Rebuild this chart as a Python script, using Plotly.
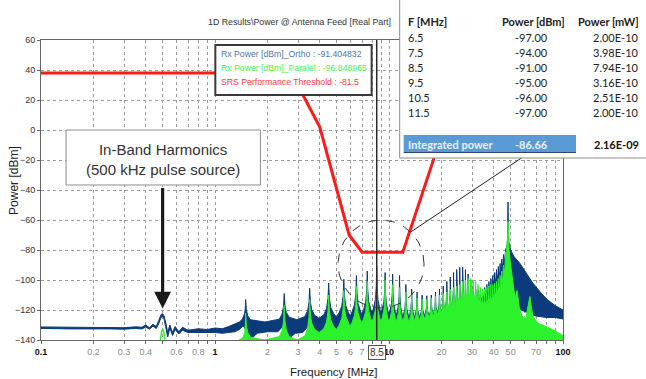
import numpy as np
import plotly.graph_objects as go

# ---------------- data ----------------
# odd harmonics of the 500 kHz pulse source [MHz]
harm_f = [1.5, 2.5, 3.5, 4.5, 5.5, 6.5, 7.5, 8.5, 9.5, 10.5,
          11.5, 12.5, 13.5, 14.5, 15.5, 16.5, 17.5, 18.5, 19.5, 20.5,
          21.5, 22.5, 23.5, 24.5, 25.5, 26.5, 27.5, 28.5, 29.5, 30.5,
          31.5, 32.5, 33.5, 34.5, 35.5, 36.5, 37.5, 38.5, 39.5, 40.5,
          41.5, 42.5, 43.5, 44.5, 45.5, 46.5]

# Rx Power [dBm]_Ortho : harmonic peaks and the level between harmonics
ortho_peak = [-113, -109, -105.5, -102, -99.5, -97, -94, -91, -95, -96,
              -97, -103, -106, -108, -110, -110.5, -110, -108, -106, -104,
              -101, -98, -95, -93, -91.5, -91.5, -93, -96, -100, -104,
              -106, -107, -107, -106, -105, -103, -101, -99, -97, -95,
              -93, -91, -89, -86, -83, -80]
ortho_valley = [-128, -126.5, -125.5, -124.5, -124, -123, -122, -122, -123, -124,
                -125, -125, -125, -125, -124, -124, -123, -122, -122, -121,
                -121, -120, -120, -119, -119, -119, -120, -120, -119, -117,
                -115, -114, -113, -112, -110, -108, -106, -104, -102, -100,
                -98, -96, -93, -90, -87]
# low band (below the first harmonic): upper / lower edge of the trace
ortho_low_f = [0.1, 0.15, 0.2, 0.25, 0.3, 0.35, 0.38, 0.40, 0.42, 0.44, 0.46, 0.475,
               0.49, 0.50, 0.51, 0.52, 0.535, 0.55, 0.57, 0.59, 0.62, 0.65, 0.7,
               0.8, 0.9, 1.0, 1.1, 1.2, 1.3, 1.38, 1.44]
ortho_low_top = [-131.3, -131.6, -131.8, -131.6, -131.8, -131.2, -131.5, -130, -131.8,
                 -129.5, -131, -127, -123, -122.5, -124, -128, -135, -130, -135, -131,
                 -134.5, -131.5, -133.5, -132.5, -133, -132, -132.5, -131, -129.5,
                 -128, -126]
ortho_low_bot = [-132.3, -132.6, -132.8, -132.6, -132.8, -132.3, -132.6, -131.3, -132.8,
                 -130.8, -132.3, -129, -125, -124, -126, -131, -138, -132, -137, -133,
                 -136, -133.5, -135, -134.5, -135, -135, -135.5, -135, -134.5, -133,
                 -131]
# floor of the Ortho trace across the harmonic band
ortho_floor_f = [1.47, 1.53, 1.6, 1.75, 2.0, 2.3, 2.45, 2.56, 2.68, 2.9, 3.2, 3.42,
                 3.58, 3.75, 4.2, 5.0, 6.0, 7.0, 8.0, 10.0, 12.0, 15.0, 20.0, 25.0,
                 30.0, 35.0, 40.0, 46.8]
ortho_floor = [-131, -136, -139.5, -135.5, -134.5, -134.5, -131, -136, -138.5, -135.5,
               -135, -131, -135, -136.5, -134, -133, -132, -131, -130, -130, -130,
               -129, -128, -127, -125, -122, -119, -114]
# high band around the 48 MHz emission
ortho_high_f = [47.2, 47.8, 48.1, 48.3, 48.5, 48.9, 50, 52, 56.6, 62, 67, 74, 81, 90, 100]
ortho_high_top = [-79, -76, -70, -48, -70, -75, -80, -84, -89, -96, -102, -108, -113,
                  -117, -120]
ortho_high_bot_f = [47.2, 48.3, 52, 60, 70, 80, 90, 100]
ortho_high_bot = [-114, -110, -117, -121, -124, -125, -125, -126]

# Rx Power [dBm]_Paralel
para_peak = [-122, -117, -113, -110, -107, -104, -101, -99, -100, -103,
             -105, -108, -110, -112, -113, -113, -112, -111, -110, -109,
             -108, -106, -105, -104, -103, -101, -100, -99, -99, -100,
             -101, -103, -105, -106, -106, -105, -104, -103, -103, -102,
             -101, -99, -97, -94, -90, -84]
para_valley = [-140, -140, -135, -133, -131, -129, -128, -128, -128, -128,
               -128, -128, -127, -127, -126, -125, -124, -123, -122, -120,
               -118, -117, -116, -115, -114, -113, -112, -111, -111, -112,
               -113, -115, -116, -117, -117, -116, -115, -114, -112, -110,
               -108, -106, -103, -100, -95]
para_hump_f = [0.485, 0.49, 0.495, 0.50, 0.505, 0.51, 0.515]
para_hump = [-140, -136, -133.5, -133, -133.5, -136, -140]
para_high_f = [47.2, 47.8, 48.1, 48.3, 48.5, 49.0, 50.0, 51.5, 53.0, 54.5, 56, 58, 61,
               64.5, 67, 72, 80, 90, 100]
para_high = [-81, -75, -72, -61, -72, -80, -90, -102, -112, -107, -118, -124, -126,
             -111, -124, -129, -131, -134, -137]

# SRS Performance Threshold
thr_f = [0.1, 2.75, 4.0, 5.9, 7.0, 12.0, 18.0, 22.0, 100]
thr_db = [38, 38, 2, -70, -81.5, -81.5, -20, 38, 38]

cursor_f = 8.5
x_grid = [0.1, 0.2, 0.3, 0.4, 0.5, 0.6, 0.7, 0.8, 0.9,
          1, 2, 3, 4, 5, 6, 7, 8, 9, 10, 20, 30, 40, 50, 60, 70, 80, 90, 100]
x_labels = {0.1: "0.1", 0.2: "0.2", 0.3: "0.3", 0.4: "0.4", 0.6: "0.6", 0.8: "0.8",
            1: "1", 2: "2", 3: "3", 4: "4", 5: "5", 6: "6", 7: "7", 10: "10",
            20: "20", 30: "30", 40: "40", 50: "50", 70: "70", 100: "100"}
decades = {0.1, 1, 10, 100}

# cursor read-out lines
readout = [("Rx Power [dBm]_Ortho : -91.404832", "#4d76ad"),
           ("Rx Power [dBm]_Paralel : -96.848965", "#4cf24c"),
           ("SRS Performance Threshold : -81.5", "#ff3a3a")]

BLUE = "#0b3b7a"
GREEN = "#2cf22c"
RED = "#ff1a1a"

# ---------------- helpers ----------------
SKIRT = [(0.35, 0.1), (0.15, 0.28), (0.05, 0.55)]


def comb_edge(freqs, peaks, valleys, left_level, right_level, cap=0.08):
    """Upper edge of a harmonic comb: resonance spikes joined at the valleys."""
    lf = np.log10(freqs)
    n = len(freqs)
    pts = []
    for k in range(n):
        vl = left_level if k == 0 else valleys[k - 1]
        vr = right_level if k == n - 1 else valleys[k]
        gl = 0.04 if k == 0 else min(cap, lf[k] - lf[k - 1])
        gr = min(cap, (lf[k + 1] if k < n - 1 else 2 * lf[k] - lf[k - 1]) - lf[k])
        if k > 0:
            pts.append((10 ** ((lf[k - 1] + lf[k]) / 2), vl))
        for frac, share in SKIRT:
            pts.append((10 ** (lf[k] - frac * gl), vl + share * (peaks[k] - vl)))
        pts.append((freqs[k], peaks[k]))
        for frac, share in reversed(SKIRT):
            pts.append((10 ** (lf[k] + frac * gr), vr + share * (peaks[k] - vr)))
    return pts


def px_x(x):
    return (x - 41) / 521


def px_y(y):
    return (340 - y) / 300


# Ortho: filled band between upper and lower edges
ortho_upper = (list(zip(ortho_low_f, ortho_low_top))
               + comb_edge(harm_f, ortho_peak, ortho_valley, ortho_low_top[-1], ortho_high_top[0])
               + list(zip(ortho_high_f, ortho_high_top)))
ortho_lower = (list(zip(ortho_low_f, ortho_low_bot))
               + list(zip(ortho_floor_f, ortho_floor))
               + list(zip(ortho_high_bot_f, ortho_high_bot)))
ortho_poly = ortho_upper + ortho_lower[::-1] + [ortho_upper[0]]

# Paralel: filled down to the axis floor
para_upper = ([(1.38, -140)]
              + comb_edge(harm_f, para_peak, para_valley, -140, para_high[0])
              + list(zip(para_high_f, para_high)))
para_poly = para_upper + [(100, -140), (1.38, -140)]

fig = go.Figure()
fig.add_trace(go.Scatter(
    x=[p[0] for p in ortho_poly], y=[p[1] for p in ortho_poly],
    mode="lines", fill="toself", fillcolor=BLUE, line=dict(color=BLUE, width=1),
    name="Rx Power [dBm]_Ortho", hoverinfo="skip"))
fig.add_trace(go.Scatter(
    x=[p[0] for p in para_poly], y=[p[1] for p in para_poly],
    mode="lines", fill="toself", fillcolor=GREEN, line=dict(color=GREEN, width=1),
    name="Rx Power [dBm]_Paralel", hoverinfo="skip"))
fig.add_trace(go.Scatter(
    x=para_hump_f, y=para_hump, mode="lines", line=dict(color=GREEN, width=1.5),
    showlegend=False, hoverinfo="skip"))
fig.add_trace(go.Scatter(
    x=thr_f, y=thr_db, mode="lines", line=dict(color=RED, width=3),
    name="SRS Performance Threshold", hoverinfo="skip"))
fig.add_trace(go.Scatter(
    x=[cursor_f, cursor_f], y=[-140, 60], mode="lines",
    line=dict(color="#2a2a2a", width=1.5), showlegend=False, hoverinfo="skip"))

# dashed zoom circle around the integrated band
t = np.linspace(0, 2 * np.pi, 121)
circ_c, circ_db, circ_rx, circ_ry = np.log10(9.0), -89.3, 0.247, 29.3
fig.add_trace(go.Scatter(
    x=10 ** (circ_c + circ_rx * np.cos(t)), y=circ_db + circ_ry * np.sin(t),
    mode="lines", line=dict(color="#333333", width=1, dash="dash"),
    showlegend=False, hoverinfo="skip"))

# ---------------- axes ----------------
def tick_text(v):
    if v not in x_labels:
        return ""
    if v in decades:
        return f'<span style="color:#111"><b>{x_labels[v]}</b></span>'
    return x_labels[v]


fig.update_xaxes(
    type="log", range=[-1, 2], tickvals=x_grid, ticktext=[tick_text(v) for v in x_grid],
    showgrid=True, gridcolor="#9a9a9a", griddash="dot", gridwidth=1,
    ticks="outside", ticklen=3, tickcolor="#666",
    showline=True, linecolor="#666", linewidth=1, mirror=True, zeroline=False,
    tickfont=dict(family="Liberation Sans", size=9, color="#8a8a8a"))
fig.update_yaxes(
    range=[-140, 60], tick0=-140, dtick=20,
    showgrid=True, gridcolor="#9a9a9a", griddash="dot", gridwidth=1,
    ticks="outside", ticklen=3, tickcolor="#666",
    showline=True, linecolor="#666", linewidth=1, mirror=True, zeroline=False,
    tickfont=dict(family="Liberation Sans", size=9, color="#333"))

# ---------------- shapes ----------------
shapes = [
    # cursor read-out box
    dict(type="rect", xref="paper", yref="paper", x0=px_x(215), x1=px_x(371),
         y0=px_y(95), y1=px_y(45), fillcolor="white", line=dict(color="#3a3a3a", width=2),
         layer="above"),
    # harmonic callout box
    dict(type="rect", xref="paper", yref="paper", x0=px_x(66), x1=px_x(260),
         y0=px_y(185), y1=px_y(130), fillcolor="white", line=dict(color="#8c8c8c", width=1),
         layer="above"),
    # leader from the circle to the table
    dict(type="line", xref="paper", yref="paper", x0=px_x(410), y0=px_y(232),
         x1=px_x(522), y1=px_y(157), line=dict(color="#222", width=1), layer="above"),
    # table panel
    dict(type="rect", xref="paper", yref="paper", x0=px_x(399), x1=px_x(648),
         y0=px_y(158), y1=px_y(-2), fillcolor="white", line=dict(color="#8c8c8c", width=1),
         layer="above"),
    dict(type="rect", xref="paper", yref="paper", x0=px_x(403), x1=px_x(575),
         y0=px_y(152), y1=px_y(135), fillcolor="#5b9bd5", line=dict(width=0), layer="above"),
    dict(type="line", xref="paper", yref="paper", x0=px_x(403), x1=px_x(575),
         y0=px_y(152.5), y1=px_y(152.5), line=dict(color="#2d4a6a", width=1), layer="above"),
]

# ---------------- annotations ----------------
ann = []
ann.append(dict(text="1D Results\\Power @ Antenna Feed [Real Part]", x=px_x(392), y=px_y(22),
                xref="paper", yref="paper", xanchor="right", yanchor="middle", showarrow=False,
                font=dict(family="Liberation Sans", size=8.8, color="#333")))
for i, (txt, col) in enumerate(readout):
    ann.append(dict(text=txt, x=px_x(219), y=px_y(54 + i * 14), xref="paper", yref="paper",
                    xanchor="left", yanchor="middle", showarrow=False,
                    font=dict(family="Liberation Sans", size=8.7, color=col)))
ann.append(dict(text="In-Band Harmonics<br>(500 kHz pulse source)", x=px_x(163), y=px_y(159),
                xref="paper", yref="paper", xanchor="center", yanchor="middle", showarrow=False,
                font=dict(family="Liberation Sans", size=15, color="#333")))
ann.append(dict(text="", x=np.log10(0.5), y=-119, xref="x", yref="y", showarrow=True,
                ax=0, ay=-122, arrowhead=2, arrowwidth=3.2, arrowsize=1.05, arrowcolor="#1a1a1a"))
ann.append(dict(text=str(cursor_f), x=np.log10(cursor_f), y=px_y(352), xref="x", yref="paper",
                xanchor="center", yanchor="middle", showarrow=False, bgcolor="white",
                bordercolor="#555", borderwidth=1, borderpad=1,
                font=dict(family="Liberation Sans", size=10, color="#333")))
ann.append(dict(text="Power [dBm]", x=px_x(14), y=px_y(180), xref="paper", yref="paper",
                textangle=-90, xanchor="center", yanchor="middle", showarrow=False,
                font=dict(family="Liberation Sans", size=12, color="#222")))
ann.append(dict(text="Frequency [MHz]", x=px_x(333), y=px_y(372), xref="paper", yref="paper",
                xanchor="center", yanchor="middle", showarrow=False,
                font=dict(family="Liberation Sans", size=11.5, color="#222")))


def cell(text, x, y, anchor, bold=False, color="#222"):
    return dict(text=f"<b>{text}</b>" if bold else text, x=px_x(x), y=px_y(y),
                xref="paper", yref="paper", xanchor=anchor, yanchor="middle",
                showarrow=False, font=dict(family="Lato", size=11, color=color))


# table of the harmonics inside the circled band
band = slice(5, 11)
band_f = harm_f[band]
band_dbm = ortho_peak[band]
band_mw = [10 ** (v / 10) for v in band_dbm]
total_mw = sum(band_mw)
total_dbm = 10 * np.log10(total_mw)

ann.append(cell("F [MHz]", 405, 22, "left", bold=True))
ann.append(cell("Power [dBm]", 566, 22, "right", bold=True))
ann.append(cell("Power [mW]", 640, 22, "right", bold=True))
for i, (f, d, m) in enumerate(zip(band_f, band_dbm, band_mw)):
    y = 37 + i * 15.2
    ann.append(cell(f"{f}", 405, y, "left"))
    ann.append(cell(f"{d:.2f}", 549, y, "right"))
    ann.append(cell(f"{m:.2E}", 640, y, "right"))
ann.append(cell("Integrated power", 405, 144, "left", bold=True, color="#e8f0fa"))
ann.append(cell(f"{total_dbm:.2f}", 549, 144, "right", bold=True, color="#e8f0fa"))
ann.append(cell(f"{total_mw:.2E}", 640, 144, "right", bold=True, color="#111"))

fig.update_layout(
    width=646, height=379, margin=dict(l=41, r=83, t=40, b=39),
    plot_bgcolor="white", paper_bgcolor="white", showlegend=False,
    shapes=shapes, annotations=ann)

fig.write_html("out.html")
